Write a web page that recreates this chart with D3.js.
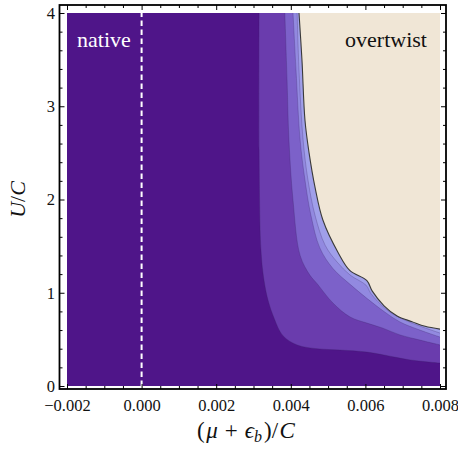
<!DOCTYPE html>
<html>
<head>
<meta charset="utf-8">
<script src="https://cdn.jsdelivr.net/npm/d3@7"></script>
<style>
  body { margin: 0; background: #fff; }
  svg { display: block; }
  svg text { font-family: "Liberation Serif", "Times New Roman", "DejaVu Serif", serif; }
</style>
</head>
<body>
<div id="chart"></div>
<script>
// tick labels
const xTicks = [-0.002, 0.000, 0.002, 0.004, 0.006, 0.008];
const yTicks = [0, 1, 2, 3, 4];

// contour boundaries [ (mu+eps_b)/C , U/C ], top -> right edge
const contour1 = [[0.00315,4.0],[0.00315,2.53],[0.00320,1.46],[0.00328,1.14],[0.00339,0.92],[0.00355,0.73],
  [0.00379,0.54],[0.00417,0.44],[0.00470,0.40],[0.00532,0.386],[0.00604,0.364],[0.00653,0.33],[0.00720,0.28],[0.008,0.246]];
const contour2 = [[0.00384,4.0],[0.00390,3.28],[0.00395,2.64],[0.00406,1.99],[0.00425,1.40],[0.00451,1.19],
  [0.00470,1.10],[0.00513,0.89],[0.00559,0.74],[0.00604,0.675],[0.00647,0.62],[0.00693,0.547],[0.00746,0.493],[0.008,0.44]];
const contour3 = [[0.00406,4.0],[0.00414,3.39],[0.00425,2.64],[0.00438,2.21],[0.00454,1.83],[0.00478,1.48],
  [0.00513,1.26],[0.00559,1.09],[0.00604,0.94],[0.00653,0.79],[0.00693,0.686],[0.00746,0.60],[0.008,0.525]];
const contour4 = [[0.00417,4.0],[0.00422,3.39],[0.00433,2.64],[0.00446,2.21],[0.00465,1.83],[0.00492,1.51],
  [0.00524,1.33],[0.00559,1.19],[0.00602,1.08],[0.00615,0.99],[0.00655,0.825],[0.00693,0.73],[0.00746,0.643],[0.008,0.568]];
const contour5 = [[0.00422,4.0],[0.00430,3.49],[0.00438,2.85],[0.00449,2.50],[0.00465,2.13],[0.00486,1.78],
  [0.00527,1.43],[0.00558,1.24],[0.00604,1.13],[0.00618,1.02],[0.00650,0.86],[0.00685,0.75],[0.00725,0.69],[0.00760,0.64],[0.008,0.61]];

const contours = [contour1, contour2, contour3, contour4, contour5];
const baseColor = "#4f1589";
const bandColors = ["#6a3cad", "#7c61c9", "#9289e0", "#a09fea", "#f0e6d6"];

const W = 458, H = 454;

const x = d3.scaleLinear().domain([-0.002, 0.008]).range([67, 440]);
const y = d3.scaleLinear().domain([0, 4]).range([386, 13]);
const frame = {l: 59.5, r: 446, t: 5, b: 389};

const svg = d3.select("#chart").append("svg")
    .attr("width", W)
    .attr("height", H);

svg.append("defs").append("clipPath").attr("id", "plotclip")
  .append("rect")
    .attr("x", x(-0.002)).attr("y", y(4))
    .attr("width", x(0.008) - x(-0.002))
    .attr("height", y(0) - y(4));

const plot = svg.append("g").attr("clip-path", "url(#plotclip)");

// base region
plot.append("rect")
    .attr("x", x(-0.002)).attr("y", y(4))
    .attr("width", x(0.008) - x(-0.002))
    .attr("height", y(0) - y(4))
    .attr("fill", baseColor);

const line = d3.line()
    .x(d => x(d[0]))
    .y(d => y(d[1]))
    .curve(d3.curveCatmullRom.alpha(0.5));

// filled bands, each one covers everything above/right of its boundary
contours.forEach((c, i) => {
  plot.append("path")
      .attr("d", line(c) + "L" + x(0.008) + "," + y(4) + "Z")
      .attr("fill", bandColors[i]);
});

// contour lines
contours.forEach((c, i) => {
  plot.append("path")
      .attr("d", line(c))
      .attr("fill", "none")
      .attr("stroke", i == 4 ? "#3a3a3a" : "rgba(50,30,90,0.35)")
      .attr("stroke-width", i == 4 ? 1.1 : 0.7);
});

// dashed line at zero
plot.append("line")
    .attr("x1", x(0)).attr("x2", x(0))
    .attr("y1", y(0)).attr("y2", y(4))
    .attr("stroke", "#fff")
    .attr("stroke-width", 2)
    .attr("stroke-dasharray", "5.5,3.5");

// region labels
svg.append("text")
    .attr("x", 77).attr("y", 47)
    .attr("font-size", 22)
    .attr("fill", "#fff")
    .text("native");
svg.append("text")
    .attr("x", 427).attr("y", 47)
    .attr("text-anchor", "end")
    .attr("font-size", 22)
    .attr("fill", "#111")
    .text("overtwist");

// ticks (all inward)
const fmt = d3.format(".3f");
function styleAxis(g) {
  g.select(".domain").remove();
  g.attr("font-size", 16.5);
  g.selectAll(".tick line").attr("stroke", "#000").attr("stroke-width", 1);
  g.selectAll(".tick text").attr("fill", "#111");
}
const xMinor = x.ticks(20).filter(v => !xTicks.some(t => Math.abs(t - v) < 1e-9));
const yMinor = y.ticks(20).filter(v => !yTicks.some(t => Math.abs(t - v) < 1e-9));

svg.append("g").attr("transform", `translate(0,${frame.b})`)
    .call(d3.axisBottom(x).tickValues(xTicks).tickSize(-5).tickPadding(10).tickFormat(fmt)).call(styleAxis);
svg.append("g").attr("transform", `translate(0,${frame.b})`)
    .call(d3.axisBottom(x).tickValues(xMinor).tickSize(-3).tickFormat("")).call(styleAxis);
svg.append("g").attr("transform", `translate(0,${frame.t})`)
    .call(d3.axisTop(x).tickValues(xTicks).tickSize(-5).tickFormat("")).call(styleAxis);
svg.append("g").attr("transform", `translate(0,${frame.t})`)
    .call(d3.axisTop(x).tickValues(xMinor).tickSize(-3).tickFormat("")).call(styleAxis);

svg.append("g").attr("transform", `translate(${frame.l},0)`)
    .call(d3.axisLeft(y).tickValues(yTicks).tickSize(-5).tickPadding(4.5).tickFormat(d3.format("d"))).call(styleAxis);
svg.append("g").attr("transform", `translate(${frame.l},0)`)
    .call(d3.axisLeft(y).tickValues(yMinor).tickSize(-3).tickFormat("")).call(styleAxis);
svg.append("g").attr("transform", `translate(${frame.r},0)`)
    .call(d3.axisRight(y).tickValues(yTicks).tickSize(-5).tickFormat("")).call(styleAxis);
svg.append("g").attr("transform", `translate(${frame.r},0)`)
    .call(d3.axisRight(y).tickValues(yMinor).tickSize(-3).tickFormat("")).call(styleAxis);

// frame
svg.append("rect")
    .attr("x", frame.l).attr("y", frame.t)
    .attr("width", frame.r - frame.l)
    .attr("height", frame.b - frame.t)
    .attr("fill", "none")
    .attr("stroke", "#000")
    .attr("stroke-width", 1.8);

// axis titles
const xt = svg.append("text")
    .attr("x", 197).attr("y", 438)
    .attr("font-size", 23).attr("fill", "#111");
xt.append("tspan").text("(");
xt.append("tspan").attr("font-style", "italic").attr("dx", 1.5).text("μ");
xt.append("tspan").attr("dx", 7).text("+");
xt.append("tspan").attr("font-style", "italic").attr("dx", 7).text("ϵ");
xt.append("tspan").attr("font-style", "italic").attr("font-size", 16).attr("dy", 4).text("b");
xt.append("tspan").attr("dy", -4).attr("dx", 2).text(")/");
xt.append("tspan").attr("font-style", "italic").attr("dx", 1.5).text("C");

const yt = svg.append("text")
    .attr("transform", `translate(25,${(y(0) + y(4)) / 2}) rotate(-90)`)
    .attr("text-anchor", "middle")
    .attr("font-size", 22).attr("fill", "#111");
yt.append("tspan").attr("font-style", "italic").text("U");
yt.append("tspan").text("/");
yt.append("tspan").attr("font-style", "italic").text("C");
</script>
</body>
</html>
